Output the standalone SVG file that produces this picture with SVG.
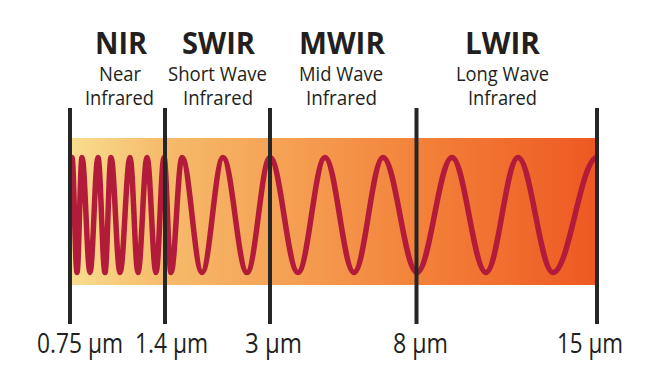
<svg xmlns="http://www.w3.org/2000/svg" width="661" height="369" viewBox="0 0 661 369">
<defs>
<linearGradient id="band" x1="70" y1="0" x2="597" y2="0" gradientUnits="userSpaceOnUse">
<stop offset="0" stop-color="#f9dd90"/>
<stop offset="0.17" stop-color="#f6bc6c"/>
<stop offset="0.38" stop-color="#f5a457"/>
<stop offset="0.66" stop-color="#f3823a"/>
<stop offset="1" stop-color="#ee5822"/>
</linearGradient>
<style>
.t{font-family:"Open Sans","DejaVu Sans",sans-serif;font-weight:700;font-size:30px;fill:#231f20}
.s{font-family:"Open Sans","DejaVu Sans",sans-serif;font-size:19.5px;fill:#231f20}
.b{font-family:"Open Sans","DejaVu Sans",sans-serif;font-size:28px;fill:#231f20}
.tick{stroke:#262626;stroke-width:4;fill:none}
.wave{stroke:#b31b3b;stroke-width:5.5;fill:none;stroke-linejoin:round}
</style>
</defs>
<rect width="661" height="369" fill="#ffffff"/>
<rect id="band-area" x="70" y="138" width="527" height="147" fill="url(#band)"/>
<g id="wave">
<path class="wave" d="M72,157.5 C73.82,157.5 75.18,272.5 77,272.5 C78.82,272.5 80.18,157.5 82,157.5 C84.91,157.5 87.09,272.5 90,272.5 C92.91,272.5 95.09,157.5 98,157.5 C100.55,157.5 102.45,272.5 105,272.5 C107.19,272.5 108.81,157.5 111,157.5 C114.28,157.5 116.72,272.5 120,272.5 C123.64,272.5 126.36,157.5 130,157.5 C132.91,157.5 135.09,272.5 138,272.5 C141.28,272.5 143.72,157.5 147,157.5 C150.28,157.5 152.72,272.5 156,272.5 C158.91,272.5 161.09,157.5 164,157.5 C166.55,157.5 168.45,272.5 171,272.5 C175.01,272.5 177.99,157.5 182,157.5 C189.28,157.5 194.72,272.5 202,272.5 C209.65,272.5 215.35,157.5 223,157.5 C231.74,157.5 238.26,272.5 247,272.5 C255.38,272.5 261.62,157.5 270,157.5 C280.2,157.5 287.8,272.5 298,272.5 C307.83,272.5 315.17,157.5 325,157.5 C335.56,157.5 343.44,272.5 354,272.5 C364.56,272.5 372.44,157.5 383,157.5 C395.38,157.5 404.62,272.5 417,272.5 C429.75,272.5 439.25,157.5 452,157.5 C464.38,157.5 473.62,272.5 486,272.5 C497.65,272.5 506.35,157.5 518,157.5 C530.75,157.5 540.25,272.5 553,272.5 C569.02,272.5 580.98,157.5 597,157.5"/>
</g>
<g id="connectors">
<line class="tick" x1="70" y1="108" x2="70" y2="324"/>
<line class="tick" x1="165" y1="108" x2="165" y2="324"/>
<line class="tick" x1="270" y1="108" x2="270" y2="324"/>
<line class="tick" x1="416.5" y1="108" x2="416.5" y2="324"/>
<line class="tick" x1="597" y1="108" x2="597" y2="324"/>
</g>
<g id="nir">
<text class="t" x="95" y="54" textLength="52" lengthAdjust="spacingAndGlyphs">NIR</text>
<text class="s" x="99" y="81" textLength="42" lengthAdjust="spacingAndGlyphs">Near</text>
<text class="s" x="85" y="105" textLength="69" lengthAdjust="spacingAndGlyphs">Infrared</text>
</g>
<g id="swir">
<text class="t" x="182" y="54" textLength="73" lengthAdjust="spacingAndGlyphs">SWIR</text>
<text class="s" x="168" y="81" textLength="99" lengthAdjust="spacingAndGlyphs">Short Wave</text>
<text class="s" x="183" y="105" textLength="70" lengthAdjust="spacingAndGlyphs">Infrared</text>
</g>
<g id="mwir">
<text class="t" x="299" y="54" textLength="86" lengthAdjust="spacingAndGlyphs">MWIR</text>
<text class="s" x="299" y="81" textLength="84" lengthAdjust="spacingAndGlyphs">Mid Wave</text>
<text class="s" x="306" y="105" textLength="71" lengthAdjust="spacingAndGlyphs">Infrared</text>
</g>
<g id="lwir">
<text class="t" x="465" y="54" textLength="75" lengthAdjust="spacingAndGlyphs">LWIR</text>
<text class="s" x="456" y="81" textLength="93" lengthAdjust="spacingAndGlyphs">Long Wave</text>
<text class="s" x="468" y="105" textLength="69" lengthAdjust="spacingAndGlyphs">Infrared</text>
</g>
<g id="scale">
<text class="b" x="37" y="353" textLength="86" lengthAdjust="spacingAndGlyphs">0.75 µm</text>
<text class="b" x="135" y="353" textLength="73" lengthAdjust="spacingAndGlyphs">1.4 µm</text>
<text class="b" x="245" y="353" textLength="57" lengthAdjust="spacingAndGlyphs">3 µm</text>
<text class="b" x="393" y="353" textLength="55" lengthAdjust="spacingAndGlyphs">8 µm</text>
<text class="b" x="557" y="353" textLength="66" lengthAdjust="spacingAndGlyphs">15 µm</text>
</g>
</svg>
